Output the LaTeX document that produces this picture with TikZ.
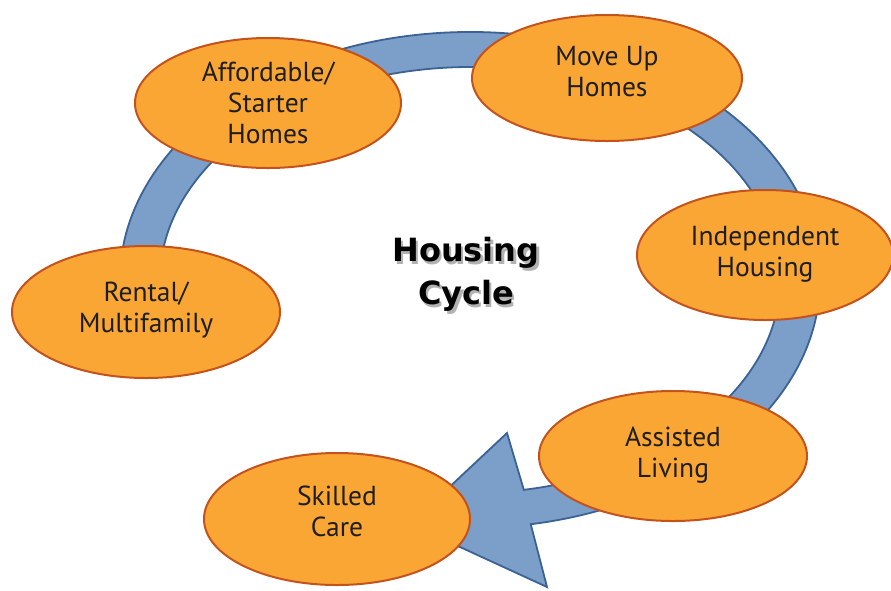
\documentclass[tikz,border=0pt]{standalone}
\usepackage{fontspec}
\setmainfont{PT Sans}
\newfontfamily\hfont{DejaVu Sans}
\usetikzlibrary{shapes.geometric}
\definecolor{bubblefill}{HTML}{FAA634}
\definecolor{bubbleline}{HTML}{C4521C}
\definecolor{ringfill}{HTML}{7C9FC9}
\definecolor{ringline}{HTML}{3A6294}
\definecolor{labeltext}{HTML}{1E1E1E}
\newcommand\txtup[1]{\rule[-#1pt]{0pt}{0pt}}
\newcommand\shadowtxt[1]{\makebox[0pt][l]{\hspace{2.5pt}\raisebox{-2.5pt}{\color{black!30}#1}}#1}
\begin{document}
\begin{tikzpicture}[x=1pt,y=-1pt,
  bubble/.style={ellipse, draw=bubbleline, fill=bubblefill, line width=2pt,
    minimum width=266pt, minimum height=130pt, inner sep=0pt, align=center,
    text=labeltext, font=\fontsize{27.5}{31}\selectfont},
  ringstyle/.style={fill=ringfill, draw=ringline, line width=1.8pt, line join=miter},
  titlestyle/.style={font=\hfont\bfseries\fontsize{32}{43}\selectfont, align=center}]
\useasboundingbox (0,0) rectangle (891,590);
% ring arrow
\filldraw[ringstyle] (121.3,301.6) arc[start angle=175, end angle=440, x radius=350, y radius=248]
  -- (547,587) -- (410,524) -- (507,433) -- (523.8,489.8)
  arc[start angle=440, end angle=175, x radius=310, y radius=213] -- cycle;
% bubbles
\node[bubble] (afford) at (268,103) {Affordable/\\Starter\\Homes};
\node[bubble, minimum width=270pt, minimum height=126pt] (moveup) at (607,78) {Move Up\\Homes\txtup{14}};
\node[bubble, minimum width=256pt] (indep) at (765,255) {Independent\\Housing\txtup{8}};
\node[bubble, minimum width=268pt, minimum height=132pt] (rental) at (146,312) {Rental/\\Multifamily\txtup{10}};
\node[bubble, minimum width=268pt] (assist) at (673,456) {Assisted\\Living\txtup{8}};
\node[bubble, minimum height=132pt] (skilled) at (337,519) {Skilled\\Care\txtup{16}};
% title with shadow
\node[titlestyle] (title) at (466,276) {\shadowtxt{Housing}\\\shadowtxt{Cycle}};
\end{tikzpicture}
\end{document}
